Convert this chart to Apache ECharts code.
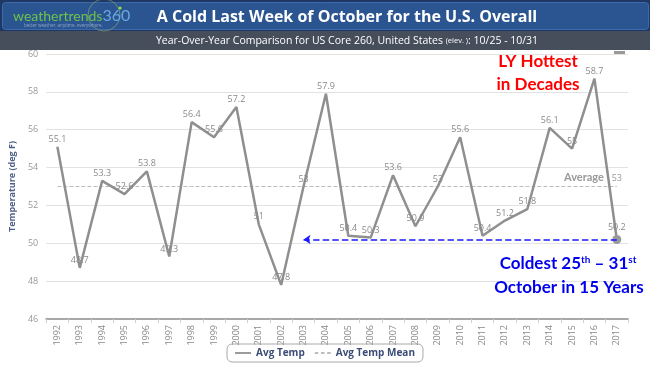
<!DOCTYPE html>
<html>
<head>
<meta charset="utf-8">
<script src="https://cdn.jsdelivr.net/npm/echarts@6/dist/echarts.min.js"></script>
<style>
html,body{margin:0;padding:0;background:#fff;}
#c{width:650px;height:366px;}
</style>
</head>
<body>
<div id="c"></div>
<script>
var years = ['1992','1993','1994','1995','1996','1997','1998','1999','2000','2001','2002','2003','2004','2005','2006','2007','2008','2009','2010','2011','2012','2013','2014','2015','2016','2017'];
var avgTemp = [55.1,48.7,53.3,52.6,53.8,49.3,56.4,55.6,57.2,51,47.8,53,57.9,50.4,50.3,53.6,50.9,53,55.6,50.4,51.2,51.8,56.1,55,58.7,50.2];
var avgTempMean = [53,53,53,53,53,53,53,53,53,53,53,53,53,53,53,53,53,53,53,53,53,53,53,53,53,53];
var yTicks = {min:46, max:60, interval:2};
var arrowStartIndex = 10.5;

var chart = echarts.init(document.getElementById('c'), null, {renderer:'canvas'});

var mainData = avgTemp.map(function(v,i){
  if (i === avgTemp.length-1) {
    return {value:v, symbolSize:9, itemStyle:{color:'#9a9a9a'}};
  }
  return v;
});
var meanData = avgTempMean.map(function(v,i){
  if (i === avgTempMean.length-1) {
    return {value:v, label:{show:true, position:'top', distance:4, color:'#999', fontSize:9, fontFamily:'Open Sans'}};
  }
  return v;
});
var last = avgTemp[avgTemp.length-1];

var option = {
  animation:false,
  backgroundColor:'#fff',
  grid:{left:42.7, right:22, top:54, bottom:47},
  xAxis:{
    type:'category', data:years, boundaryGap:true,
    axisLine:{lineStyle:{color:'#a8a8a8', width:2}},
    axisTick:{show:true, lineStyle:{color:'#c8d0e0'}, length:4},
    axisLabel:{rotate:90, fontSize:9, color:'#888', margin:6, fontFamily:'Open Sans'},
    splitLine:{show:false}
  },
  yAxis:{
    type:'value', min:yTicks.min, max:yTicks.max, interval:yTicks.interval,
    name:'Temperature (deg F)', nameLocation:'middle', nameGap:26,
    nameTextStyle:{color:'#4e5f85', fontSize:9, fontWeight:'bold', fontFamily:'Open Sans'},
    axisLine:{show:false}, axisTick:{show:false},
    axisLabel:{fontSize:9, color:'#999', margin:8, fontFamily:'Open Sans'},
    splitLine:{lineStyle:{color:'#e2e2e2', width:1}}
  },
  legend:{
    bottom:4, left:'center',
    data:[
      {name:'Avg Temp', icon:'path://M0,0h18v2h-18z'},
      {name:'Avg Temp Mean', icon:'path://M0,0h4v2h-4zM7,0h4v2h-4zM14,0h4v2h-4z'}
    ],
    borderColor:'#aaa', borderWidth:1, borderRadius:5, padding:[4,8],
    itemWidth:16, itemHeight:2, itemGap:10,
    textStyle:{color:'#3b4c76', fontSize:10, fontWeight:'bold', fontFamily:'Open Sans'}
  },
  series:[
    {
      name:'Avg Temp', type:'line', data:mainData, symbol:'circle', symbolSize:0.01, showSymbol:true, z:3,
      lineStyle:{color:'#8f8f8f', width:2.5}, itemStyle:{color:'#8f8f8f'},
      label:{show:true, position:'top', distance:3, color:'#8a8a8a', fontSize:9, fontFamily:'Open Sans'},
      markLine:{
        silent:true, symbol:['arrow','none'], symbolSize:[7,7],
        lineStyle:{color:'#1a1aff', type:'dashed', width:1.6},
        label:{show:false},
        data:[[{coord:[arrowStartIndex, last]},{coord:[years.length-1, last]}]]
      }
    },
    {
      name:'Avg Temp Mean', type:'line', data:meanData, symbol:'circle', symbolSize:0.01, showSymbol:true, z:2,
      lineStyle:{color:'#bdbdbd', width:1, type:'dashed'}, itemStyle:{color:'#bdbdbd'},
      label:{show:false}
    }
  ],
  graphic:[
    {type:'rect', left:0, top:0, shape:{width:650, height:32}, style:{fill:'#1d3864'}, z:10},
    {type:'rect', left:2, top:2, shape:{width:646, height:27, r:3}, style:{fill:'#2b5591', stroke:'#3d6aa8', lineWidth:1}, z:11},
    {type:'rect', left:0, top:31, shape:{width:650, height:19}, style:{fill:'#464e5b'}, z:10},
    {type:'circle', shape:{cx:104, cy:15, r:16}, style:{fill:'none', stroke:'#7a9a7c', lineWidth:0.8}, z:12},
    {type:'circle', shape:{cx:120, cy:8, r:1.6}, style:{fill:'#9be04a'}, z:12},
    {type:'text', left:13, top:8, z:12, style:{
      text:'{a|weathertrends}{b|360}', rich:{
        a:{fill:'#6cc24a', fontSize:14, fontFamily:'Lato', fontWeight:'normal'},
        b:{fill:'#69a7dd', fontSize:16, fontFamily:'Lato', fontWeight:'normal'}
      }}},
    {type:'text', left:24, top:23, z:12, style:{text:'better weather. anytime. everywhere.', fill:'#8fa6c4', fontSize:4.5, fontFamily:'Open Sans'}},
    {type:'text', x:347, y:17, z:12, style:{text:'A Cold Last Week of October for the U.S. Overall', fill:'#fff', fontSize:16, fontWeight:'bold', fontFamily:'Open Sans', align:'center', verticalAlign:'middle'}},
    {type:'text', x:347, y:41, z:12, style:{
      text:'{n|Year-Over-Year Comparison for US Core 260, United States }{s|(elev. )}{n|: 10/25 - 10/31}',
      align:'center', verticalAlign:'middle',
      rich:{n:{fill:'#fff', fontSize:10.5, fontFamily:'Open Sans'}, s:{fill:'#fff', fontSize:7.5, fontFamily:'Open Sans'}}}},
    {type:'rect', left:614, top:51, shape:{width:11, height:3}, style:{fill:'#999'}, z:12},
    {type:'text', x:538, y:62, z:12, style:{text:'LY Hottest', fill:'#ff0000', fontSize:17, fontWeight:'bold', fontFamily:'Lato', align:'center', verticalAlign:'middle'}},
    {type:'text', x:538, y:85, z:12, style:{text:'in Decades', fill:'#ff0000', fontSize:17, fontWeight:'bold', fontFamily:'Lato', align:'center', verticalAlign:'middle'}},
    {type:'text', x:584, y:177, z:12, style:{text:'Average', fill:'#999', fontSize:11, fontWeight:'bold', fontFamily:'Lato', align:'center', verticalAlign:'middle'}},
    {type:'text', x:568, y:264, z:12, style:{
      text:'{m|Coldest 25}{s|th}{m| – 31}{s|st}', align:'center', verticalAlign:'middle',
      rich:{m:{fill:'#0000ee', fontSize:17, fontWeight:'bold', fontFamily:'Lato'},
            s:{fill:'#0000ee', fontSize:10, fontWeight:'bold', fontFamily:'Lato', verticalAlign:'top', padding:[0,0,8,0]}}}},
    {type:'text', x:569, y:288, z:12, style:{text:'October in 15 Years', fill:'#0000ee', fontSize:17, fontWeight:'bold', fontFamily:'Lato', align:'center', verticalAlign:'middle'}}
  ]
};
chart.setOption(option);
</script>
</body>
</html>
